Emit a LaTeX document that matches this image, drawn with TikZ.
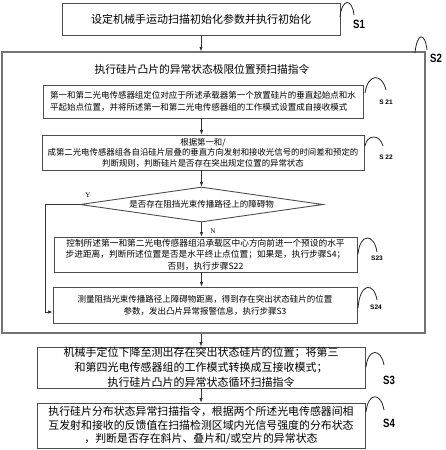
\documentclass[tikz,border=0pt]{standalone}
\usepackage{fontspec}
\setmainfont{Noto Sans CJK SC}
\newfontfamily\tagfont{Liberation Sans}
\newfontfamily\ynfont{Liberation Serif}
\usetikzlibrary{arrows.meta}
\usetikzlibrary{shapes.geometric}
\usetikzlibrary{calc}

\tikzset{
  stepbox/.style={draw=black!70, line width=0.9pt, inner sep=0pt, align=center},
  bigtext/.style={font=\fontsize{11}{15}\selectfont},
  smalltext/.style={font=\fontsize{8.5}{12}\selectfont},
  flow/.style={-{Latex[length=4.5pt,width=3.5pt]}, black!80, line width=0.7pt},
  tagarc/.style={draw=black!85, line width=0.8pt},
  bigtag/.style={font=\tagfont\bfseries\fontsize{12}{12}\selectfont, inner sep=0pt, xscale=0.8},
  smalltag/.style={font=\tagfont\bfseries\fontsize{6.5}{6.5}\selectfont, inner sep=0pt},
  yn/.style={font=\ynfont\fontsize{7}{7}\selectfont, inner sep=0pt}
}

\begin{document}
\begin{tikzpicture}[x=1pt, y=-1pt]
\useasboundingbox (0,0) rectangle (446,450);
% step S1
\node[stepbox, bigtext, minimum width=278pt, minimum height=32pt] (s1) at (201,19)
  {设定机械手运动扫描初始化参数并执行初始化};
% step S2 with its sub steps
\node[draw=black!55, line width=1.4pt, minimum width=423pt, minimum height=281pt] (s2) at (213.5,192.5) {};
\node[font=\fontsize{10.75}{13}\selectfont] (s2title) at (202,69) {执行硅片凸片的异常状态极限位置预扫描指令};
\node[stepbox, smalltext, align=left, minimum width=320pt, minimum height=33pt] (s21) at (203,101.5)
  {第一和第二光电传感器组定位对应于所述承载器第一个放置硅片的垂直起始点和水\\
   平起始点位置，并将所述第一和第二光电传感器组的工作模式设置成自接收模式};
\node[stepbox, smalltext, font=\fontsize{8.4}{10.5}\selectfont, minimum width=322pt, minimum height=35pt] (s22) at (203,152.5)
  {根据第一和/\\
   成第二光电传感器组各自沿硅片层叠的垂直方向发射和接收光信号的时间差和预定的\\
   判断规则，判断硅片是否存在突出规定位置的异常状态};
\node[diamond, draw=black!70, line width=0.9pt, aspect=7, inner sep=0pt, minimum width=243pt, minimum height=35pt, smalltext] (dia) at (201.5,204.5)
  {是否存在阻挡光束传播路径上的障碍物};
\node[stepbox, smalltext, font=\fontsize{8.7}{11.5}\selectfont, minimum width=303pt, minimum height=35pt] (s23) at (205.5,254.5)
  {控制所述第一和第二光电传感器组沿承载区中心方向前进一个预设的水平\\
   步进距离，判断所述位置是否是水平终止点位置；如果是，执行步骤S4；\\
   否则，执行步骤S22};
\node[stepbox, smalltext, minimum width=304pt, minimum height=36pt] (s24) at (205,305)
  {测量阻挡光束传播路径上障碍物距离，得到存在突出状态硅片的位置\\
   参数，发出凸片异常报警信息，执行步骤S3};
% steps S3 and S4
\node[stepbox, bigtext, minimum width=328pt, minimum height=41pt] (s3) at (201,367.5)
  {机械手定位下降至测出存在突出状态硅片的位置；将第三\\
   和第四光电传感器组的工作模式转换成互接收模式；\\
   执行硅片凸片的异常状态循环扫描指令};
\node[stepbox, bigtext, font=\fontsize{10.9}{13.7}\selectfont, minimum width=328pt, minimum height=45pt] (s4) at (201,425.5)
  {执行硅片分布状态异常扫描指令，根据两个所述光电传感器间相\\
   互发射和接收的反馈值在扫描检测区域内光信号强度的分布状态\\
   ，判断是否存在斜片、叠片和/或空片的异常状态};

% flow
\draw[flow] (s1.south) -- (s1.south |- s2.north);
\draw[flow] (s21.south -| dia.north) -- (dia.north |- s22.north);
\draw[flow] (dia.north |- s22.south) -- (dia.north);
\draw[flow] (dia.south) -- (dia.south |- s23.north);
\draw[flow] (dia.south |- s23.south) -- (dia.south |- s24.north);
\draw[flow] (s2.south -| s3.north) -- (s3.north);
\draw[flow] (s3.south) -- (s4.north);
\coordinate (yturn) at (45,312);
\draw[flow] (dia.west) -| (yturn) -- (yturn -| s24.west);
\node[yn] (ylab) at (88,195) {Y};
\node[yn] (nlab) at (213,231) {N};

% step tags
\draw[tagarc] (340,17) .. controls (342,-2) and (352,-2) .. (354,15);
\draw[tagarc] (415,53) .. controls (417,32) and (425,32) .. (427,50);
\draw[tagarc] (365,93) .. controls (368,73) and (382,73) .. (386,90);
\draw[tagarc] (365,146) .. controls (367,134) and (380,134) .. (383,146);
\draw[tagarc] (358,254) .. controls (360,233) and (374,233) .. (377,252);
\draw[tagarc] (358,308) .. controls (360,282) and (374,282) .. (377,300);
\draw[tagarc] (366,367) .. controls (368,348) and (381,348) .. (384,365);
\draw[tagarc] (366,412) .. controls (368,392) and (381,392) .. (384,410);
\node[bigtag] (t1) at (359,24) {S1};
\node[bigtag] (t2) at (436,58) {S2};
\node[smalltag] (t21) at (386,102) {S 21};
\node[smalltag] (t22) at (386,157) {S 22};
\node[smalltag] (t23) at (377,258) {S23};
\node[smalltag] (t24) at (376,307) {S24};
\node[bigtag] (t3) at (389,380) {S3};
\node[bigtag] (t4) at (389,423) {S4};
\end{tikzpicture}
\end{document}
